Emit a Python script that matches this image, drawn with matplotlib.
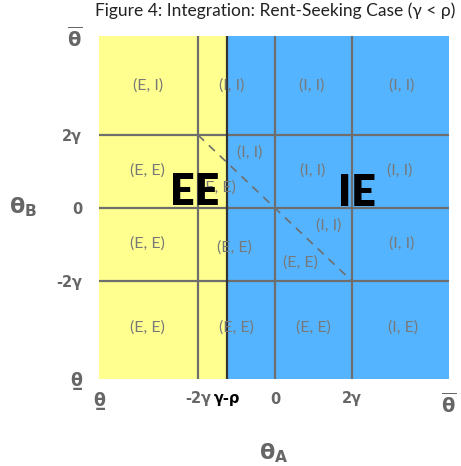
import matplotlib
matplotlib.use("Agg")
import matplotlib.pyplot as plt
from matplotlib.patches import Rectangle

plt.rcParams['font.family'] = ['Lato', 'DejaVu Sans']
plt.rcParams['mathtext.fontset'] = 'dejavusans'

# Parameters (gamma normalised to 1)
gamma = 1.0
rho = 2.25
theta_low_x, theta_high_x = -4.57, 4.52
theta_low_y, theta_high_y = -4.68, 4.71
cutoff = gamma - rho  # integration boundary for theta_A

# Grid lines
x_grid = [-2 * gamma, 0.0, 2 * gamma]
y_grid = [-2 * gamma, 0.0, 2 * gamma]

# Outcome labels inside the regions: (text, theta_A, theta_B)
cell_text = ["(E, I)", "(I, I)", "(I, I)", "(I, I)",
             "(E, E)", "(I, I)", "(E, E)", "(I, I)", "(I, I)",
             "(E, E)", "(E, E)", "(I, I)", "(E, E)", "(I, I)",
             "(E, E)", "(E, E)", "(E, E)", "(I, E)"]
cell_x = [-3.30, -1.12, 0.96, 3.30,
          -3.30, -0.65, -1.48, 0.99, 3.25,
          -3.30, -1.04, 1.40, 0.65, 3.30,
          -3.30, -1.01, 0.99, 3.32]
cell_y = [3.34, 3.34, 3.34, 3.34,
          1.04, 1.51, 0.55, 1.04, 1.04,
          -0.96, -1.07, -0.49, -1.48, -0.96,
          -3.26, -3.26, -3.26, -3.26]

THETA_LOW = 'θ\u0332'
THETA_HIGH = r'$\mathbf{\overline{\theta}}$'
x_ticks = [theta_low_x, -2 * gamma, cutoff, 0.0, 2 * gamma, theta_high_x]
x_ticklabels = [THETA_LOW, '-2γ', 'γ-ρ', '0', '2γ', THETA_HIGH]
y_ticks = [theta_low_y, -2 * gamma, 0.0, 2 * gamma, theta_high_y]
y_ticklabels = [THETA_LOW, '-2γ', '0', '2γ', THETA_HIGH]

yellow = '#FFFF8F'
blue = '#55B4FF'
line_gray = '#6E6E6E'
text_gray = '#787878'
tick_gray = '#666666'

fig = plt.figure(figsize=(4.61, 4.66), dpi=100)
ax = fig.add_axes([99 / 461, 1 - 379 / 466, 350 / 461, 343 / 466])
ax.set_xlim(theta_low_x, theta_high_x)
ax.set_ylim(theta_low_y, theta_high_y)

# Regions: exit (EE) to the left of the cutoff, integration (IE) to the right
ax.add_patch(Rectangle((theta_low_x, theta_low_y), cutoff - theta_low_x,
                       theta_high_y - theta_low_y, facecolor=yellow,
                       edgecolor='none', zorder=0))
ax.add_patch(Rectangle((cutoff, theta_low_y), theta_high_x - cutoff,
                       theta_high_y - theta_low_y, facecolor=blue,
                       edgecolor='none', zorder=0))

for xv in x_grid:
    ax.axvline(xv, color=line_gray, lw=1.6, zorder=1)
for yv in y_grid:
    ax.axhline(yv, color=line_gray, lw=1.6, zorder=1)
ax.axvline(cutoff, color='#333333', lw=1.6, zorder=1)

# Diagonal theta_A + theta_B = 0 between the +-2 gamma corners
ax.plot([-2 * gamma, 2 * gamma], [2 * gamma, -2 * gamma], color=line_gray,
        lw=1.2, ls=(0, (5, 4)), zorder=2)

for t, xv, yv in zip(cell_text, cell_x, cell_y):
    ax.text(xv, yv, t, ha='center', va='center', color=text_gray,
            fontsize=11.5, zorder=3)

ax.text(-2.08, 0.44, 'EE', ha='center', va='center', fontsize=31,
        fontweight='heavy', color='black', zorder=4)
ax.text(2.13, 0.41, 'IE', ha='center', va='center', fontsize=31,
        fontweight='heavy', color='black', zorder=4)

ax.set_xticks(x_ticks)
ax.set_xticklabels(x_ticklabels, fontsize=10.5, fontweight='bold', color=tick_gray,
                   family=['DejaVu Sans'])
xt = ax.get_xticklabels()
xt[2].set_color('black')
xt[0].set_fontsize(12.5)
xt[-1].set_fontsize(14)
ax.set_yticks(y_ticks)
ax.set_yticklabels(y_ticklabels, fontsize=10.5, fontweight='bold', color=tick_gray,
                   family=['DejaVu Sans'])
yt = ax.get_yticklabels()
yt[0].set_fontsize(12.5)
yt[-1].set_fontsize(14)
ax.tick_params(length=0, pad=9)
ax.tick_params(axis='y', pad=12)
for s in ax.spines.values():
    s.set_visible(False)

ax.set_xlabel(r'$\mathbf{\theta_A}$', fontsize=16, color=tick_gray, labelpad=18)
ax.set_ylabel(r'$\mathbf{\theta_B}$', fontsize=16, color=tick_gray, rotation=0,
              labelpad=24, va='center')

fig.text(275 / 461, 1 - 11 / 466, 'Figure 4: Integration: Rent-Seeking Case (γ < ρ)',
         ha='center', va='center', fontsize=12.5, color='#222222')

fig.savefig('out.png', dpi=100)
